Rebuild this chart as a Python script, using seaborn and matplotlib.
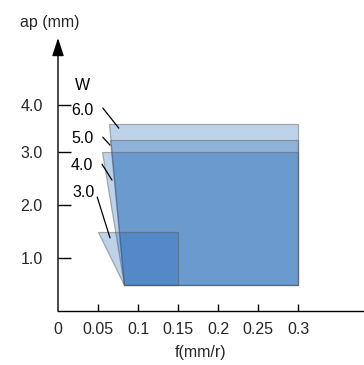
import matplotlib
matplotlib.use("Agg")
import matplotlib.pyplot as plt
import seaborn as sns
import pandas as pd

sns.set_theme(style="white")
plt.rcParams['font.family'] = ['Liberation Sans', 'DejaVu Sans']

# Data: cutting regions for insert widths W (f in mm/r, ap in mm)
widths = ["3.0", "4.0", "5.0", "6.0"]
f_top_left = [0.05, 0.055, 0.065, 0.064]
f_top_right = [0.15, 0.30, 0.30, 0.30]
f_bottom_left = [0.0825, 0.0825, 0.0825, 0.0825]
ap_max = [1.5, 3.0, 3.23, 3.53]
ap_min = [0.5, 0.5, 0.5, 0.5]

xtick_vals = [0, 0.05, 0.1, 0.15, 0.2, 0.25, 0.3]
xtick_labels = ["0", "0.05", "0.1", "0.15", "0.2", "0.25", "0.3"]
ytick_vals = [1.0, 2.0, 3.0, 3.88]
ytick_labels = ["1.0", "2.0", "3.0", "4.0"]

# label anchors and leader lines per width
label_x = [0.0325, 0.03, 0.03, 0.03]
label_y = [2.23, 2.75, 3.26, 3.79]
lead_x0 = [0.049, 0.055, 0.056, 0.056]
lead_y0 = [2.15, 2.77, 3.28, 3.83]
lead_x1 = [0.065, 0.0675, 0.065, 0.076]
lead_y1 = [1.38, 2.47, 3.13, 3.45]

FS = 11.5
W, H = 364, 365
fig = plt.figure(figsize=(W / 100, H / 100), dpi=100)
ax = fig.add_axes([58 / W, (H - 311) / H, (W - 58) / W, (311 - 38) / H])
ax.set_xlim(0, 306 / 800)
ax.set_ylim(0, 273 / 53)

fill_color = (15 / 255, 92 / 255, 177 / 255, 0.27)
edge_color = (0.35, 0.35, 0.35, 0.45)
order = [3, 2, 1, 0]
for i in order:
    xs = [f_top_left[i], f_top_right[i], f_top_right[i], f_bottom_left[i]]
    ys = [ap_max[i], ap_max[i], ap_min[i], ap_min[i]]
    ax.fill(xs, ys, facecolor=fill_color, edgecolor=edge_color, linewidth=0.9)

lead = pd.DataFrame({
    "W": widths * 2,
    "f": lead_x0 + lead_x1,
    "ap": lead_y0 + lead_y1,
})
sns.lineplot(data=lead, x="f", y="ap", units="W", estimator=None,
             color="black", linewidth=0.9, ax=ax, sort=False)
for i, w in enumerate(widths):
    ax.text(label_x[i], label_y[i], w, ha="center", va="center", fontsize=FS, color="black")
ax.text(0.03, 4.26, "W", ha="center", va="center", fontsize=FS, color="black")

ax.set_xlabel("")
ax.set_ylabel("")
for s in ["top", "right", "left"]:
    ax.spines[s].set_visible(False)
ax.spines["bottom"].set_color("black")
ax.spines["bottom"].set_linewidth(1.0)

ax.set_xticks(xtick_vals)
ax.set_xticklabels(xtick_labels)
ax.set_yticks(ytick_vals)
ax.set_yticklabels(ytick_labels)
ax.tick_params(axis="x", direction="in", length=5, width=1, color="black",
               labelsize=FS, pad=8, bottom=True)
ax.tick_params(axis="y", direction="in", length=9, width=1, color="black",
               labelsize=FS, pad=11, left=True)
ax.xaxis.get_major_ticks()[0].tick1line.set_visible(False)

ax.annotate("", xy=(0, 1), xytext=(0, 0), xycoords="axes fraction",
            textcoords="axes fraction", annotation_clip=False,
            arrowprops=dict(arrowstyle="-|>,head_length=0.55,head_width=0.18",
                            color="black", lw=1.0, mutation_scale=20,
                            shrinkA=0, shrinkB=0))

fig.text(50 / W, 1 - 22 / H, "ap (mm)", ha="center", va="center", fontsize=FS)
fig.text(201 / W, 1 - 352 / H, "f(mm/r)", ha="center", va="center", fontsize=FS)

fig.savefig("out.png", dpi=100)
